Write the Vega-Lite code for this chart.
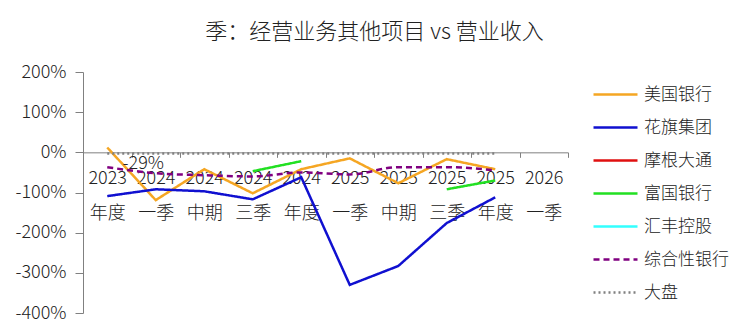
{
  "$schema": "https://vega.github.io/schema/vega-lite/v6.json",
  "autosize": {"type": "none"},
  "padding": {"left": 83, "top": 72, "right": 182, "bottom": 20},
  "width": 485,
  "height": 241,
  "background": "white",
  "config": {
    "view": {"stroke": null},
    "font": "Noto Sans CJK SC",
    "axis": {"labelFont": "Noto Sans CJK SC", "labelColor": "#222222", "domainColor": "#808080", "tickColor": "#808080", "grid": false, "title": null},
    "legend": {"labelFont": "Noto Sans CJK SC"}
  },
  "title": {
    "text": "季：经营业务其他项目 vs 营业收入",
    "fontSize": 22,
    "fontWeight": 300,
    "color": "#222222",
    "anchor": "middle",
    "dx": 49,
    "offset": 19
  },
  "datasets": {
    "main": [
      {"period": "2023 年度", "series": "美国银行", "value": 12},
      {"period": "2024 一季", "series": "美国银行", "value": -119},
      {"period": "2024 中期", "series": "美国银行", "value": -42},
      {"period": "2024 三季", "series": "美国银行", "value": -102},
      {"period": "2024 年度", "series": "美国银行", "value": -42},
      {"period": "2025 一季", "series": "美国银行", "value": -15},
      {"period": "2025 中期", "series": "美国银行", "value": -77},
      {"period": "2025 三季", "series": "美国银行", "value": -17},
      {"period": "2025 年度", "series": "美国银行", "value": -42},
      {"period": "2023 年度", "series": "花旗集团", "value": -109},
      {"period": "2024 一季", "series": "花旗集团", "value": -92},
      {"period": "2024 中期", "series": "花旗集团", "value": -97},
      {"period": "2024 三季", "series": "花旗集团", "value": -117},
      {"period": "2024 年度", "series": "花旗集团", "value": -62},
      {"period": "2025 一季", "series": "花旗集团", "value": -330},
      {"period": "2025 中期", "series": "花旗集团", "value": -283},
      {"period": "2025 三季", "series": "花旗集团", "value": -176},
      {"period": "2025 年度", "series": "花旗集团", "value": -112},
      {"period": "2024 三季", "series": "富国银行", "value": -47},
      {"period": "2024 年度", "series": "富国银行", "value": -22},
      {"period": "2025 一季", "series": "富国银行", "value": null},
      {"period": "2025 中期", "series": "富国银行", "value": null},
      {"period": "2025 三季", "series": "富国银行", "value": -92},
      {"period": "2025 年度", "series": "富国银行", "value": -70},
      {"period": "2023 年度", "series": "综合性银行", "value": -37},
      {"period": "2024 一季", "series": "综合性银行", "value": -52},
      {"period": "2024 中期", "series": "综合性银行", "value": -57},
      {"period": "2024 三季", "series": "综合性银行", "value": -60},
      {"period": "2024 年度", "series": "综合性银行", "value": -50},
      {"period": "2025 一季", "series": "综合性银行", "value": -55},
      {"period": "2025 中期", "series": "综合性银行", "value": -37},
      {"period": "2025 三季", "series": "综合性银行", "value": -37},
      {"period": "2025 年度", "series": "综合性银行", "value": -45},
      {"period": "2023 年度", "series": "大盘", "value": -3},
      {"period": "2024 一季", "series": "大盘", "value": -3},
      {"period": "2024 中期", "series": "大盘", "value": -3},
      {"period": "2024 三季", "series": "大盘", "value": -3},
      {"period": "2024 年度", "series": "大盘", "value": -3},
      {"period": "2025 一季", "series": "大盘", "value": -3},
      {"period": "2025 中期", "series": "大盘", "value": -3},
      {"period": "2025 三季", "series": "大盘", "value": -3},
      {"period": "2025 年度", "series": "大盘", "value": -3}
    ],
    "labels": [
      {"period": "2023 年度", "value": -29, "label": "-29%"}
    ]
  },
  "encoding": {
    "x": {
      "field": "period",
      "type": "nominal",
      "sort": null,
      "scale": {"domain": ["2023 年度", "2024 一季", "2024 中期", "2024 三季", "2024 年度", "2025 一季", "2025 中期", "2025 三季", "2025 年度", "2026 一季"], "paddingInner": 0, "paddingOuter": 0},
      "axis": {
        "orient": "bottom",
        "offset": -160.67,
        "labelAngle": 0,
        "labelFontSize": 18,
        "labelFontWeight": 300,
        "labelLineHeight": 35,
        "labelPadding": 12,
        "tickSize": 5,
        "tickBand": "extent",
        "labelExpr": "split(datum.label, ' ')",
        "zindex": 0
      }
    },
    "y": {
      "field": "value",
      "type": "quantitative",
      "scale": {"domain": [-400, 200], "nice": false, "zero": false},
      "axis": {
        "values": [-400, -300, -200, -100, 0, 100, 200],
        "labelExpr": "datum.value + '%'",
        "labelFontSize": 18,
        "labelFontWeight": 300,
        "tickSize": 8,
        "labelPadding": 9
      }
    }
  },
  "layer": [
    {
      "data": {"name": "main"},
      "transform": [{"filter": "datum.series !== '综合性银行'"}],
      "mark": {"type": "line", "strokeWidth": 2.5, "clip": false},
      "encoding": {
        "color": {
          "field": "series",
          "type": "nominal",
          "scale": {
            "domain": ["美国银行", "花旗集团", "摩根大通", "富国银行", "汇丰控股", "综合性银行", "大盘"],
            "range": ["#F5A623", "#1010D0", "#E01010", "#22E022", "#33FFFF", "#800080", "#808080"]
          },
          "legend": {
            "title": null,
            "orient": "none",
            "legendX": 509,
            "legendY": -1,
            "padding": 0,
            "symbolType": "stroke",
            "symbolSize": 1936,
            "symbolStrokeWidth": 2.5,
            "labelFontSize": 17,
            "labelFontWeight": 300,
            "labelColor": "#222222",
            "labelOffset": 5,
            "rowPadding": 1
          }
        },
        "strokeDash": {
          "field": "series",
          "type": "nominal",
          "scale": {
            "domain": ["美国银行", "花旗集团", "摩根大通", "富国银行", "汇丰控股", "综合性银行", "大盘"],
            "range": [[1, 0], [1, 0], [1, 0], [1, 0], [1, 0], [6, 4], [2, 3]]
          },
          "legend": null
        }
      }
    },
    {
      "data": {"name": "main"},
      "transform": [{"filter": "datum.series === '综合性银行'"}],
      "mark": {"type": "line", "strokeWidth": 2.5, "interpolate": "monotone"},
      "encoding": {
        "color": {"field": "series", "type": "nominal"},
        "strokeDash": {"field": "series", "type": "nominal"}
      }
    },
    {
      "data": {"name": "labels"},
      "mark": {"type": "text", "fontSize": 18, "fontWeight": 300, "dx": 36, "align": "center", "baseline": "middle", "color": "#222222"},
      "encoding": {
        "text": {"field": "label"}
      }
    }
  ]
}
